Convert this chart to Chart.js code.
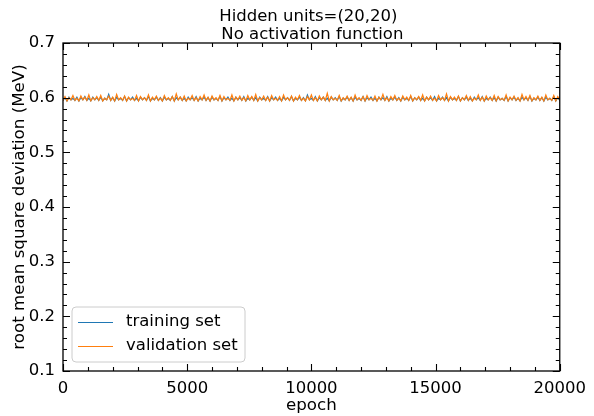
<!DOCTYPE html>
<html>
<head>
<meta charset="utf-8">
<script src="https://cdn.jsdelivr.net/npm/chart.js@4"></script>
<style>
  html, body { margin: 0; padding: 0; background: #fff; }
  #chart { display: block; }
</style>
</head>
<body>
<canvas id="chart" width="594" height="416"></canvas>
<script>
const titleLines = ['Hidden units=(20,20)', 'No activation function'];
const seriesNames = ['training set', 'validation set'];
const seriesColors = ['#1f77b4', '#ff7f0e'];
const epochStep = 80;
const xTicks = [0, 5000, 10000, 15000, 20000];
const yTicks = [0.1, 0.2, 0.3, 0.4, 0.5, 0.6, 0.7];

const trainRmsd = [
    0.595,0.600,0.594,0.601,0.596,0.599,0.595,0.601,0.594,0.600,0.596,0.602,0.595,0.599,0.594,0.601,0.596,0.600,0.595,0.601,0.594,0.599,0.596,0.606,0.595,
    0.600,0.594,0.601,0.596,0.599,0.595,0.602,0.594,0.600,0.596,0.601,0.595,0.599,0.594,0.601,0.596,0.600,0.595,0.602,0.594,0.599,0.596,0.601,0.595,0.600,
    0.594,0.601,0.596,0.599,0.595,0.602,0.594,0.600,0.596,0.601,0.595,0.599,0.594,0.601,0.596,0.600,0.595,0.602,0.594,0.599,0.596,0.601,0.595,0.600,0.594,
    0.601,0.596,0.599,0.595,0.602,0.594,0.600,0.596,0.601,0.595,0.599,0.594,0.601,0.596,0.600,0.595,0.602,0.594,0.599,0.596,0.601,0.595,0.600,0.594,0.601,
    0.596,0.599,0.595,0.602,0.594,0.600,0.596,0.601,0.595,0.599,0.594,0.601,0.596,0.600,0.595,0.602,0.594,0.599,0.596,0.601,0.595,0.600,0.594,0.605,0.596,
    0.599,0.595,0.602,0.594,0.600,0.596,0.601,0.595,0.599,0.594,0.601,0.596,0.600,0.595,0.602,0.594,0.599,0.596,0.601,0.595,0.600,0.594,0.601,0.596,0.599,
    0.595,0.602,0.594,0.600,0.596,0.601,0.595,0.599,0.594,0.601,0.596,0.600,0.595,0.602,0.594,0.599,0.596,0.601,0.595,0.600,0.594,0.601,0.596,0.599,0.595,
    0.602,0.594,0.600,0.596,0.601,0.595,0.599,0.594,0.601,0.596,0.600,0.595,0.602,0.594,0.599,0.596,0.601,0.595,0.600,0.594,0.601,0.596,0.599,0.595,0.602,
    0.594,0.600,0.596,0.601,0.595,0.599,0.594,0.601,0.596,0.600,0.595,0.602,0.594,0.599,0.596,0.601,0.595,0.600,0.594,0.601,0.596,0.599,0.595,0.602,0.594,
    0.600,0.596,0.601,0.595,0.599,0.594,0.601,0.596,0.600,0.595,0.602,0.594,0.599,0.596,0.601,0.595,0.600,0.594,0.601,0.596,0.599,0.595,0.602,0.594,0.600,
    0.595
];
const validRmsd = [
    0.595,0.602,0.594,0.600,0.596,0.604,0.595,0.599,0.594,0.603,0.596,0.601,0.595,0.605,0.594,0.600,0.596,0.602,0.595,0.604,0.594,0.599,0.596,0.603,0.595,
    0.601,0.594,0.606,0.596,0.600,0.595,0.603,0.594,0.601,0.596,0.599,0.595,0.604,0.594,0.602,0.596,0.600,0.595,0.605,0.594,0.601,0.596,0.603,0.595,0.599,
    0.594,0.604,0.596,0.600,0.595,0.602,0.594,0.607,0.596,0.601,0.595,0.603,0.594,0.599,0.596,0.604,0.595,0.600,0.594,0.602,0.596,0.605,0.595,0.601,0.594,
    0.603,0.596,0.600,0.595,0.604,0.594,0.602,0.596,0.599,0.595,0.605,0.594,0.601,0.596,0.603,0.595,0.600,0.594,0.604,0.596,0.602,0.595,0.606,0.594,0.600,
    0.596,0.603,0.595,0.601,0.594,0.604,0.596,0.599,0.595,0.602,0.594,0.605,0.596,0.600,0.595,0.603,0.594,0.601,0.596,0.604,0.595,0.599,0.594,0.602,0.596,
    0.605,0.595,0.600,0.594,0.603,0.596,0.601,0.595,0.608,0.594,0.602,0.596,0.599,0.595,0.604,0.594,0.600,0.596,0.603,0.595,0.601,0.594,0.605,0.596,0.600,
    0.595,0.602,0.594,0.604,0.596,0.599,0.595,0.603,0.594,0.601,0.596,0.606,0.595,0.600,0.594,0.602,0.596,0.604,0.595,0.599,0.594,0.603,0.596,0.601,0.595,
    0.604,0.594,0.600,0.596,0.602,0.595,0.605,0.594,0.601,0.596,0.603,0.595,0.599,0.594,0.604,0.596,0.600,0.595,0.607,0.594,0.602,0.596,0.601,0.595,0.603,
    0.594,0.600,0.596,0.604,0.595,0.602,0.594,0.599,0.596,0.605,0.595,0.601,0.594,0.603,0.596,0.600,0.595,0.604,0.594,0.602,0.596,0.599,0.595,0.605,0.594,
    0.601,0.596,0.603,0.595,0.600,0.594,0.606,0.596,0.602,0.595,0.604,0.594,0.600,0.596,0.603,0.595,0.601,0.594,0.605,0.596,0.599,0.595,0.604,0.594,0.602,
    0.596
];

const FONT = "'DejaVu Sans', sans-serif";
const toPoints = arr => arr.map((v, i) => ({ x: i * epochStep, y: v }));

// matplotlib-ish frame, inward ticks on all sides, title and legend
const mplDecor = {
    id: 'mplDecor',
    afterDraw(chart) {
        const { ctx, chartArea: a, scales } = chart;
        const xs = scales.x, ys = scales.y;
        ctx.save();
        ctx.strokeStyle = '#000';
        ctx.lineWidth = 1.3;
        ctx.strokeRect(a.left, a.top, a.right - a.left, a.bottom - a.top);

        ctx.lineWidth = 1.1;
        ctx.beginPath();
        for (let e = 0; e <= 20000; e += 1000) {
            const px = Math.round(xs.getPixelForValue(e)) + 0.5;
            const len = e % 5000 === 0 ? 7 : 4;
            ctx.moveTo(px, a.bottom); ctx.lineTo(px, a.bottom - len);
            ctx.moveTo(px, a.top); ctx.lineTo(px, a.top + len);
        }
        for (let k = 5; k <= 35; k++) {
            const v = k * 0.02;
            const py = Math.round(ys.getPixelForValue(v)) + 0.5;
            const len = k % 5 === 0 ? 7 : 4;
            ctx.moveTo(a.left, py); ctx.lineTo(a.left + len, py);
            ctx.moveTo(a.right, py); ctx.lineTo(a.right - len, py);
        }
        ctx.stroke();

        // title
        ctx.fillStyle = '#000';
        ctx.font = '16.5px ' + FONT;
        ctx.textAlign = 'center';
        ctx.textBaseline = 'middle';
        const cx = (a.left + a.right) / 2;
        ctx.fillText(titleLines[0], cx - 3, 17);
        ctx.fillText(titleLines[1], cx + 1, 35);

        // legend
        const bx = 72, by = 307, bw = 173, bh = 55;
        ctx.beginPath();
        ctx.roundRect(bx, by, bw, bh, 4);
        ctx.fillStyle = 'rgba(255,255,255,0.8)';
        ctx.fill();
        ctx.strokeStyle = '#cccccc';
        ctx.lineWidth = 1;
        ctx.stroke();
        ctx.textAlign = 'left';
        const rows = [322, 346];
        chart.data.datasets.forEach((ds, i) => {
            ctx.strokeStyle = ds.borderColor;
            ctx.lineWidth = 1.2;
            ctx.beginPath();
            ctx.moveTo(78, rows[i] + 0.5);
            ctx.lineTo(113, rows[i] + 0.5);
            ctx.stroke();
            ctx.fillStyle = '#000';
            ctx.fillText(ds.label, 126, rows[i]);
        });
        ctx.restore();
    }
};

new Chart(document.getElementById('chart'), {
    type: 'line',
    data: {
        datasets: [
            { label: seriesNames[0], data: toPoints(trainRmsd), borderColor: seriesColors[0], borderWidth: 1.2, order: 2 },
            { label: seriesNames[1], data: toPoints(validRmsd), borderColor: seriesColors[1], borderWidth: 1.2, order: 1 }
        ]
    },
    options: {
        responsive: false,
        animation: false,
        layout: { padding: { left: 0, right: 25, top: 43, bottom: 0 } },
        elements: { point: { radius: 0 }, line: { tension: 0 } },
        plugins: { legend: { display: false }, tooltip: { enabled: false }, title: { display: false } },
        scales: {
            x: {
                type: 'linear', min: 0, max: 20000,
                afterFit: s => { s.height = 45; },
                afterBuildTicks: s => { s.ticks = xTicks.map(v => ({ value: v })); },
                grid: { display: false, drawTicks: false },
                border: { display: false },
                ticks: { color: '#000', padding: 8, maxRotation: 0, callback: v => String(v), font: { family: FONT, size: 16.5 } },
                title: { display: true, text: 'epoch', color: '#000', padding: { top: 0, bottom: 0 }, font: { family: FONT, size: 16.7 } }
            },
            y: {
                min: 0.1, max: 0.7,
                afterFit: s => { s.width = 63; },
                afterBuildTicks: s => { s.ticks = yTicks.map(v => ({ value: v })); },
                grid: { display: false, drawTicks: false },
                border: { display: false },
                ticks: { color: '#000', padding: 8, callback: v => v.toFixed(1), font: { family: FONT, size: 16.5 } },
                title: { display: true, text: 'root mean square deviation (MeV)', color: '#000', padding: { top: 10, bottom: 0 }, font: { family: FONT, size: 16.7 } }
            }
        }
    },
    plugins: [mplDecor]
});
</script>
</body>
</html>
